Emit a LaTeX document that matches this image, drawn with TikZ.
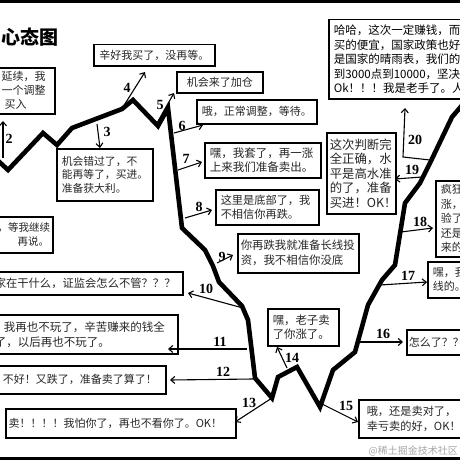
\documentclass[tikz,border=0pt]{standalone}
\usepackage{fontspec}
\newfontfamily\cjk{Noto Sans CJK SC}
\newfontfamily\numfont{Liberation Serif}
\usetikzlibrary{arrows.meta}
\begin{document}
\begin{tikzpicture}[x=1pt,y=-1pt,
  curve/.style={line width=4.6pt, line join=miter, miter limit=6},
  tip/.style={line width=1.1pt, -{Straight Barb[length=4pt,width=7pt,line width=1.1pt]}},
  box/.style={draw, line width=1.5pt, fill=white, anchor=north west, inner xsep=4pt, inner ysep=0pt,
    align=left, font=\cjk\fontsize{11}{14}\selectfont, text=black!85},
  num/.style={font=\numfont\bfseries\fontsize{14}{14}\selectfont, inner sep=0pt},
]
\useasboundingbox (0,0) rectangle (460,460);
\clip (0,0) rectangle (460,460);
\fill[white] (0,0) rectangle (460,460);
\fill[black] (0,0) rectangle (460,3);
\fill[black] (0,456.5) rectangle (460,460);

\node (title) [font=\cjk\bfseries\fontsize{19}{19}\selectfont, anchor=west, inner sep=0pt] at (1,37) {心态图};

% price curve
\draw[curve] (-6,157) -- (8,170) -- (43,133) -- (57,145) -- (72,128) -- (122,109) -- (133,100)
  -- (158,126) -- (168,108) -- (182,228) -- (205,250) -- (213,266) -- (219,282) -- (242,306)
  -- (248,320) -- (255,378) -- (272,398) -- (278,377) -- (297,367) -- (320,407) -- (333,370)
  -- (355,352) -- (368,305) -- (382,280) -- (395,265) -- (405,203) -- (420,183) -- (430,163)
  -- (452,117) -- (464,103);

% boxes
\node[box, text width=49pt, minimum height=46pt] (bA) at (-3,67) {延续，我\\一个调整\\\hspace*{3pt}买入};
\node[box, text width=113pt, minimum height=21pt, align=center] (bB) at (93,44) {辛好我买了，没再等。};
\node[box, text width=78pt, minimum height=21pt, align=center] (bC) at (176,71) {机会来了加仓};
\node[box, text width=112pt, minimum height=24pt, align=center] (bD) at (196,99) {哦，正常调整，等待。};
\node[box, inner xsep=5pt, text width=106pt, minimum height=35pt, font=\cjk\fontsize{11.5}{14.5}\selectfont] (bE) at (204,142) {嘿，我套了，再一涨\\上来我们准备卖出。};
\node[box, inner xsep=5pt, text width=93pt, minimum height=35pt, font=\cjk\fontsize{11.2}{14.5}\selectfont] (bF) at (215,189) {这里是底部了，我\\不相信你再跌。};
\node[box, inner xsep=3pt, text width=115pt, minimum height=39pt, font=\cjk\fontsize{11.4}{15}\selectfont] (bG) at (237,233) {你再跌我就准备长线投\\资，我不相信你没底};
\node[box, inner xsep=3pt, text width=63pt, minimum height=81pt, font=\cjk\fontsize{12.4}{14.5}\selectfont] (bH) at (326,132) {这次判断完\\全正确，水\\平是高水准\\的了，准备\\买进！OK！};
\node[box, inner xsep=5pt, text width=150pt, minimum height=79pt, text=black, font=\cjk\fontsize{11.5}{14.5}\selectfont] (bI) at (328,19) {哈哈，这次一定赚钱，而\\买的便宜，国家政策也好\\是国家的晴雨表，我们的\\到3000点到10000，坚决\\Ok！！！我是老手了。人};
\node[box, inner xsep=5pt, text width=50pt, minimum height=76pt, font=\cjk\fontsize{11}{14.5}\selectfont] (bJ) at (435,180) {疯狂\\涨，\\验了\\还是\\来的};
\node[box, inner xsep=5pt, text width=50pt, minimum height=36pt] (bK) at (427,261) {嘿，我\\线的。};
\node[box, inner xsep=2pt, text width=76pt, minimum height=25pt] (bL) at (406,329) {怎么了？？？};
\node[box, inner xsep=8pt, text width=114pt, minimum height=38pt, font=\cjk\fontsize{11.2}{15}\selectfont] (bM) at (358,399) {哦，还是卖对了，\\幸亏卖的好，OK！};
\node[box, inner xsep=5pt, text width=61pt, minimum height=37pt, font=\cjk\fontsize{11.4}{14.5}\selectfont] (bN) at (267,308) {嘿，老子卖\\了你涨了。};
\node[box, inner xsep=3pt, text width=224pt, minimum height=29pt] (bO) at (5,408) {卖！！！！我怕你了，再也不看你了。OK！};
\node[box, inner xsep=5pt, text width=158pt, minimum height=28pt] (bP) at (-3,365) {不好！又跌了，准备卖了算了！};
\node[box, inner xsep=4pt, text width=179pt, minimum height=39pt, font=\cjk\fontsize{11.5}{15}\selectfont] (bQ) at (-10,314) {\hspace*{9pt}我再也不玩了，辛苦赚来的钱全\\了，以后再也不玩了。};
\node[box, inner xsep=4pt, text width=184pt, minimum height=23pt, font=\cjk\fontsize{11.3}{14}\selectfont] (bR) at (-10,271) {家在干什么，证监会怎么不管？？？};
\node[box, inner xsep=7pt, text width=48pt, minimum height=36pt, font=\cjk\fontsize{10.5}{14}\selectfont] (bS) at (-10,216) {，等我继续\\\hspace*{20pt}再说。};
\node[box, inner xsep=5pt, text width=86pt, minimum height=52pt, font=\cjk\fontsize{10.8}{13.5}\selectfont] (bT) at (56,148) {机会错过了，不\\能再等了，买进。\\准备获大利。};

\node (wm) [font=\cjk\fontsize{10}{10}\selectfont, text=black!35, anchor=east, inner sep=0pt] at (458,451) {@稀土掘金技术社区};

% arrow coordinates
\coordinate (s2) at (3,158);   \coordinate (e2) at (3,121);
\coordinate (s3) at (97,124);  \coordinate (e3) at (100,148);
\coordinate (s4) at (123,107); \coordinate (e4) at (145,72);
\coordinate (s5) at (157,123); \coordinate (e5) at (174,93);
\coordinate (s6) at (174,133); \coordinate (e6) at (203,125);
\coordinate (s7) at (178,170); \coordinate (e7) at (202,162);
\coordinate (s8) at (185,218); \coordinate (e8) at (212,210);
\coordinate (s9) at (217,263); \coordinate (e9) at (233,255);
\coordinate (s10) at (243,308); \coordinate (e10) at (188,293);
\coordinate (s11) at (247,349); \coordinate (e11) at (168,349);
\coordinate (s12) at (253,379); \coordinate (e12) at (170,380);
\coordinate (s13) at (272,398); \coordinate (e13) at (235,422);
\coordinate (s14) at (287,368); \coordinate (e14) at (277,347);
\coordinate (s15) at (320,403); \coordinate (e15) at (358,422);
\coordinate (s16) at (359,342); \coordinate (e16) at (403,342);
\coordinate (s17) at (380,285); \coordinate (e17) at (427,282);
\coordinate (s18) at (401,232); \coordinate (e18) at (433,228);
\coordinate (s19) at (422,177); \coordinate (e19) at (395,179);
\coordinate (s20) at (430,160); \coordinate (m20) at (403,157); \coordinate (e20) at (405,108);

\foreach \i in {2,...,19} { \draw[tip] (s\i) -- (e\i); }
\draw[tip] (s20) -- (m20) -- (e20);

% numbers
\node[num] (n2) at (9,139) {2};
\node[num] (n3) at (107,132) {3};
\node[num] (n4) at (127,88) {4};
\node[num] (n5) at (160,105) {5};
\node[num] (n6) at (182,126) {6};
\node[num] (n7) at (186,159) {7};
\node[num] (n8) at (199,207) {8};
\node[num] (n9) at (222,257) {9};
\node[num] (n10) at (206,289) {10};
\node[num] (n11) at (220,342) {11};
\node[num] (n12) at (223,372) {12};
\node[num] (n13) at (249,403) {13};
\node[num] (n14) at (292,358) {14};
\node[num] (n15) at (346,406) {15};
\node[num] (n16) at (383,334) {16};
\node[num] (n17) at (408,276) {17};
\node[num] (n18) at (420,222) {18};
\node[num] (n19) at (412,170) {19};
\node[num] (n20) at (415,140) {20};
\end{tikzpicture}
\end{document}
